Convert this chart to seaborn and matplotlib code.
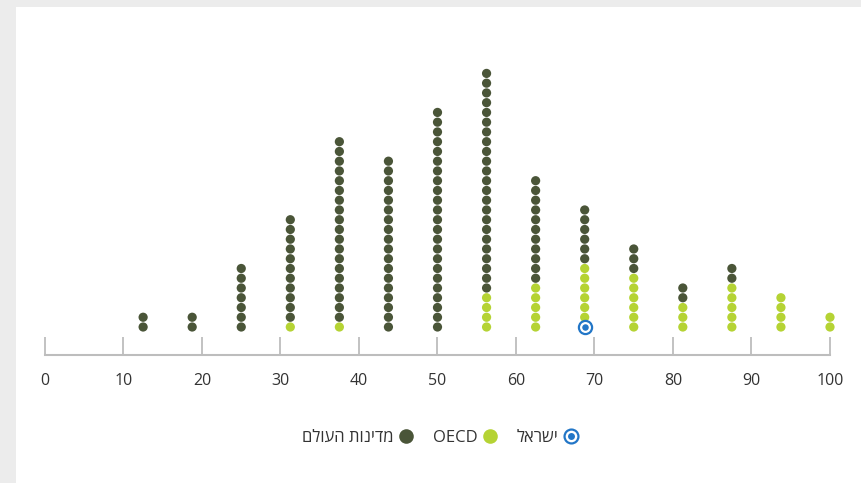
import numpy as np
import pandas as pd
import matplotlib.pyplot as plt
import seaborn as sns
from matplotlib.lines import Line2D
from matplotlib.patches import Rectangle

sns.set_style("white")
plt.rcParams["font.family"] = ["Open Sans", "DejaVu Sans"]

# score bins (x positions of the dot columns)
bins = [12.5, 18.75, 25, 31.25, 37.5, 43.75, 50, 56.25, 62.5, 68.75, 75, 81.25, 87.5, 93.75, 100]
# number of dots per column, stacked bottom-up: Israel, OECD, rest of the world
israel_counts = [0, 0, 0, 0, 0, 0, 0, 0, 0, 1, 0, 0, 0, 0, 0]
oecd_counts = [0, 0, 0, 1, 1, 0, 0, 4, 5, 6, 6, 3, 5, 4, 2]
world_counts = [2, 2, 7, 11, 19, 18, 23, 23, 11, 6, 3, 2, 2, 0, 0]

x_ticks = [0, 10, 20, 30, 40, 50, 60, 70, 80, 90, 100]
label_world = "מדינות העולם"
label_oecd = "OECD"
label_israel = "ישראל"

dark = "#4a5538"
light = "#b5d334"
blue = "#2276c7"


def rtl(s):
    # matplotlib has no bidi support, so flip hebrew for display
    return s[::-1]


def build_dots():
    rows = []
    for x, ni, no, nw in zip(bins, israel_counts, oecd_counts, world_counts):
        level = 0
        for group, n in (("israel", ni), ("oecd", no), ("world", nw)):
            for _ in range(n):
                rows.append({"score": x, "level": level, "group": group})
                level += 1
    return pd.DataFrame(rows)


def dot_plot(dots):
    W, H = 862, 483
    fig = plt.figure(figsize=(W / 100, H / 100), dpi=100, facecolor="#ececec")
    fig.patches.append(Rectangle((16 / W, 0), 1, 1 - 7 / H, transform=fig.transFigure,
                                 facecolor="white", edgecolor="none", zorder=-10))

    ax = fig.add_axes([45 / W, 128 / H, 785 / W, 305 / H])
    ax.set_facecolor("none")
    ax.set_zorder(2)

    pal = {"oecd": light, "world": dark}
    sns.scatterplot(data=dots[dots.group != "israel"], x="score", y="level", hue="group",
                    palette=pal, s=44, linewidth=0, legend=False, ax=ax, zorder=3, clip_on=False)

    isr = dots[dots.group == "israel"]
    ax.scatter(isr.score, isr.level, s=90, facecolor="white", edgecolor=blue, linewidth=1.6,
               zorder=4, clip_on=False)
    ax.scatter(isr.score, isr.level, s=22, color=blue, linewidth=0, zorder=5, clip_on=False)

    ax.set_xlim(0, 100)
    ax.set_ylim(-2.87, 28.4)
    ax.set_xticks(x_ticks)
    ax.set_yticks([])
    ax.set_xlabel("")
    ax.set_ylabel("")
    for side in ["top", "left", "right"]:
        ax.spines[side].set_visible(False)
    ax.spines["bottom"].set_color("#bdbdbd")
    ax.spines["bottom"].set_linewidth(1.5)
    ax.tick_params(axis="x", bottom=True, direction="in", length=13, width=1.3, color="#bdbdbd",
                   pad=13, labelsize=11.5, labelcolor="#333333")

    handles = [
        Line2D([], [], marker="o", ls="", markersize=10.5, markerfacecolor=dark, markeredgewidth=0),
        Line2D([], [], marker="o", ls="", markersize=10.5, markerfacecolor=light, markeredgewidth=0),
        (Line2D([], [], marker="o", ls="", markersize=10, markerfacecolor="white",
                markeredgecolor=blue, markeredgewidth=1.6),
         Line2D([], [], marker="o", ls="", markersize=5, markerfacecolor=blue, markeredgewidth=0)),
    ]
    labels = [rtl(label_world), label_oecd, rtl(label_israel)]
    fig.legend(handles, labels, loc="center", bbox_to_anchor=(441 / W, 1 - 438 / H), ncol=3,
               frameon=False, markerfirst=False, handletextpad=0.25, columnspacing=1.1,
               handlelength=1.0, fontsize=12, labelcolor="#333333")

    plt.savefig("out.png", dpi=100, facecolor=fig.get_facecolor())


if __name__ == "__main__":
    df = build_dots()
    dot_plot(df)
